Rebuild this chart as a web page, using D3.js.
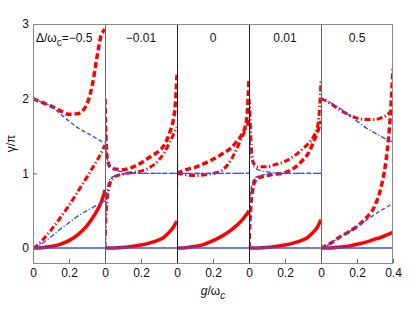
<!DOCTYPE html>
<html>
<head>
<meta charset="utf-8">
<script src="https://cdn.jsdelivr.net/npm/d3@7"></script>
<style>
  body { margin: 0; background: #fff; }
  svg { font-family: "Liberation Sans", Arial, sans-serif; }
  .tick text { font-size: 12px; fill: #111; }
</style>
</head>
<body>
<div id="chart"></div>
<script>
// g/ω_c sample points shared by every curve
const gGrid = [0, 0.004, 0.01, 0.02, 0.03, 0.05, 0.1, 0.15, 0.2, 0.25, 0.3, 0.33, 0.36, 0.38, 0.39, 0.4];

// panel titles (Δ/ω_c)
const deltaLabels = ["-0.5", "\u22120.01", "0", "0.01", "0.5"];

// γ/π, one row per panel
const redSolid = [
    [0, 0, 0, 0.001, 0.002, 0.005, 0.02, 0.05, 0.1, 0.18, 0.3, 0.4, 0.52, 0.62, 0.69, 0.78],
    [0, 0, 0, 0, 0.001, 0.002, 0.008, 0.02, 0.04, 0.07, 0.11, 0.15, 0.22, 0.28, 0.32, 0.36],
    [0, 0, 0, 0.001, 0.002, 0.005, 0.02, 0.05, 0.1, 0.16, 0.24, 0.3, 0.37, 0.43, 0.46, 0.5],
    [0, 0, 0, 0, 0.001, 0.002, 0.008, 0.02, 0.04, 0.07, 0.11, 0.15, 0.22, 0.28, 0.33, 0.38],
    [0, 0, 0, 0, 0.001, 0.002, 0.01, 0.025, 0.05, 0.08, 0.12, 0.14, 0.17, 0.19, 0.2, 0.21]
];
const redDashed = [
    [2.0, 2.0, 1.99, 1.98, 1.97, 1.95, 1.9, 1.84, 1.79, 1.8, 1.93, 2.19, 2.62, 2.86, 2.9, 2.93],
    [2.0, 1.6, 1.25, 1.13, 1.08, 1.06, 1.05, 1.08, 1.14, 1.22, 1.3, 1.38, 1.55, 1.72, 1.9, 2.32],
    [1.0, 1.0, 1.01, 1.02, 1.03, 1.05, 1.08, 1.13, 1.19, 1.26, 1.34, 1.42, 1.52, 1.64, 1.8, 2.27],
    [0, 0.3, 0.55, 0.78, 0.88, 0.94, 0.97, 0.99, 1.01, 1.07, 1.18, 1.27, 1.43, 1.55, 1.62, 1.7],
    [0, 0, 0.01, 0.02, 0.04, 0.06, 0.14, 0.21, 0.29, 0.4, 0.57, 0.78, 1.15, 1.6, 1.95, 2.4]
];
const redDashDot = [
    [0, 0, 0.01, 0.03, 0.05, 0.1, 0.24, 0.4, 0.57, 0.76, 0.95, 1.07, 1.19, 1.28, 1.33, 1.38],
    [0, 0.35, 0.6, 0.78, 0.88, 0.95, 0.99, 1.01, 1.03, 1.08, 1.18, 1.28, 1.42, 1.52, 1.57, 1.62],
    [1.0, 1.0, 1.0, 0.99, 0.99, 0.98, 0.97, 0.98, 1.0, 1.04, 1.18, 1.32, 1.48, 1.58, 1.64, 1.72],
    [2.0, 1.88, 1.5, 1.18, 1.12, 1.09, 1.09, 1.12, 1.16, 1.23, 1.33, 1.4, 1.5, 1.62, 1.8, 2.25],
    [2.0, 2.0, 1.99, 1.98, 1.97, 1.94, 1.86, 1.79, 1.74, 1.72, 1.72, 1.74, 1.77, 1.81, 1.83, 1.85]
];
const blueSolid = [
    [0, 0, 0, 0, 0, 0, 0, 0, 0, 0, 0, 0, 0, 0, 0, 0],
    [0, 0, 0, 0, 0, 0, 0, 0, 0, 0, 0, 0, 0, 0, 0, 0],
    [0, 0, 0, 0, 0, 0, 0, 0, 0, 0, 0, 0, 0, 0, 0, 0],
    [0, 0, 0, 0, 0, 0, 0, 0, 0, 0, 0, 0, 0, 0, 0, 0],
    [0, 0, 0, 0, 0, 0, 0, 0, 0, 0, 0, 0, 0, 0, 0, 0]
];
const blueDashed = [
    [2.0, 2.0, 1.99, 1.98, 1.97, 1.95, 1.9, 1.8, 1.7, 1.61, 1.54, 1.5, 1.46, 1.43, 1.42, 1.41],
    [2.0, 1.6, 1.25, 1.13, 1.08, 1.05, 1.02, 1.01, 1.0, 1.0, 1.0, 1.0, 1.0, 1.0, 1.0, 1.0],
    [2.0, 1.0, 1.0, 1.0, 1.0, 1.0, 1.0, 1.0, 1.0, 1.0, 1.0, 1.0, 1.0, 1.0, 1.0, 1.0],
    [0, 0.4, 0.75, 0.88, 0.93, 0.96, 0.99, 1.0, 1.0, 1.0, 1.0, 1.0, 1.0, 1.0, 1.0, 1.0],
    [0, 0, 0.01, 0.02, 0.03, 0.06, 0.14, 0.21, 0.29, 0.37, 0.45, 0.5, 0.54, 0.57, 0.59, 0.6]
];
const blueDashDot = [
    [0, 0, 0.01, 0.02, 0.03, 0.06, 0.15, 0.25, 0.34, 0.43, 0.5, 0.54, 0.58, 0.6, 0.62, 0.63],
    [0, 0.4, 0.75, 0.88, 0.93, 0.96, 0.99, 1.0, 1.0, 1.0, 1.0, 1.0, 1.0, 1.0, 1.0, 1.0],
    [0, 1.0, 1.0, 1.0, 1.0, 1.0, 1.0, 1.0, 1.0, 1.0, 1.0, 1.0, 1.0, 1.0, 1.0, 1.0],
    [2.0, 1.6, 1.25, 1.13, 1.08, 1.05, 1.02, 1.01, 1.0, 1.0, 1.0, 1.0, 1.0, 1.0, 1.0, 1.0],
    [2.0, 2.0, 1.99, 1.98, 1.97, 1.95, 1.88, 1.79, 1.7, 1.61, 1.54, 1.5, 1.46, 1.44, 1.43, 1.42]
];

const yTicks = [0, 1, 2, 3];

const width = 415, height = 323;
const plotLeft = 33, plotTop = 24, plotBottom = 263, panelW = 72;
const red = "#ff0000", blue = "#3352f5";

// drawing order: red under blue
const styles = [
    {data: redSolid, color: red, w: 3.5, dash: null},
    {data: redDashed, color: red, w: 3.5, dash: "6,3"},
    {data: redDashDot, color: red, w: 3, dash: "6,2.5,1.2,2.5"},
    {data: blueSolid, color: blue, w: 1.5, dash: null},
    {data: blueDashed, color: blue, w: 1.4, dash: "4,2.5"},
    {data: blueDashDot, color: blue, w: 1.4, dash: "5,2,1.2,2"}
];

const svg = d3.select("#chart").append("svg")
    .attr("width", width)
    .attr("height", height);

const y = d3.scaleLinear().domain([-0.2, 3]).range([plotBottom, plotTop]);

deltaLabels.forEach((lab, p) => {
    const x0 = plotLeft + p * panelW;
    const x = d3.scaleLinear().domain([0, 0.4]).range([x0, x0 + panelW]);

    svg.append("clipPath").attr("id", "clip" + p)
        .append("rect")
        .attr("x", x0).attr("y", plotTop)
        .attr("width", panelW).attr("height", plotBottom - plotTop);

    const g = svg.append("g").attr("clip-path", `url(#clip${p})`);
    const line = d3.line()
        .x((d, i) => x(gGrid[i]))
        .y(d => y(d))
        .curve(d3.curveMonotoneX);

    styles.forEach(s => {
        g.append("path")
            .attr("d", line(s.data[p]))
            .attr("fill", "none")
            .attr("stroke", s.color)
            .attr("stroke-width", s.w)
            .attr("stroke-dasharray", s.dash);
    });

    // bottom ticks
    const ticks = p === 4 ? [0, 0.2, 0.4] : [0, 0.2];
    svg.append("g")
        .attr("transform", `translate(0,${plotBottom})`)
        .call(d3.axisBottom(x).tickValues(ticks).tickSize(-4).tickPadding(5)
            .tickFormat(d => d === 0 ? "0" : d.toFixed(1)))
        .call(a => a.select(".domain").remove())
        .call(a => a.selectAll(".tick line").attr("stroke", "#666"));

    // divider
    if (p > 0) {
        svg.append("line")
            .attr("x1", x0 + 0.5).attr("x2", x0 + 0.5)
            .attr("y1", plotTop).attr("y2", plotBottom)
            .attr("stroke", p === 2 || p === 3 ? "#222" : "#666")
            .attr("stroke-width", 1);
    }

    // panel title
    const t = svg.append("text")
        .attr("y", 42)
        .attr("font-size", 12)
        .attr("fill", "#111");
    if (p === 0) {
        t.attr("x", x0 + 3);
        t.append("tspan").text("\u0394/\u03c9");
        t.append("tspan").attr("dy", 4).attr("font-size", 10).text("c");
        t.append("tspan").attr("dy", -4).text("=\u2212" + lab.replace("-", ""));
    } else {
        t.attr("x", x0 + panelW / 2).attr("text-anchor", "middle").text(lab);
    }
});

// y axis
svg.append("g")
    .attr("transform", `translate(${plotLeft},0)`)
    .call(d3.axisLeft(y).tickValues(yTicks).tickSize(-4).tickPadding(4)
        .tickFormat(d3.format("d")))
    .call(a => a.select(".domain").remove())
    .call(a => a.selectAll(".tick line").attr("stroke", "#666"));

// outer frame
svg.append("rect")
    .attr("x", plotLeft + 0.5).attr("y", plotTop + 0.5)
    .attr("width", panelW * 5 - 1).attr("height", plotBottom - plotTop)
    .attr("fill", "none")
    .attr("stroke", "#8a8a8a")
    .attr("stroke-width", 1);

// axis labels
const xl = svg.append("text")
    .attr("x", plotLeft + panelW * 2.5)
    .attr("y", 295)
    .attr("text-anchor", "middle")
    .attr("font-size", 12)
    .attr("fill", "#111");
xl.append("tspan").attr("font-style", "italic").text("g");
xl.append("tspan").text("/\u03c9");
xl.append("tspan").attr("dy", 4).attr("font-size", 10).attr("font-style", "italic").text("c");

svg.append("text")
    .attr("transform", `translate(15,${(plotTop + plotBottom) / 2}) rotate(-90)`)
    .attr("text-anchor", "middle")
    .attr("font-size", 12)
    .attr("fill", "#111")
    .text("\u03b3/\u03c0");
</script>
</body>
</html>
